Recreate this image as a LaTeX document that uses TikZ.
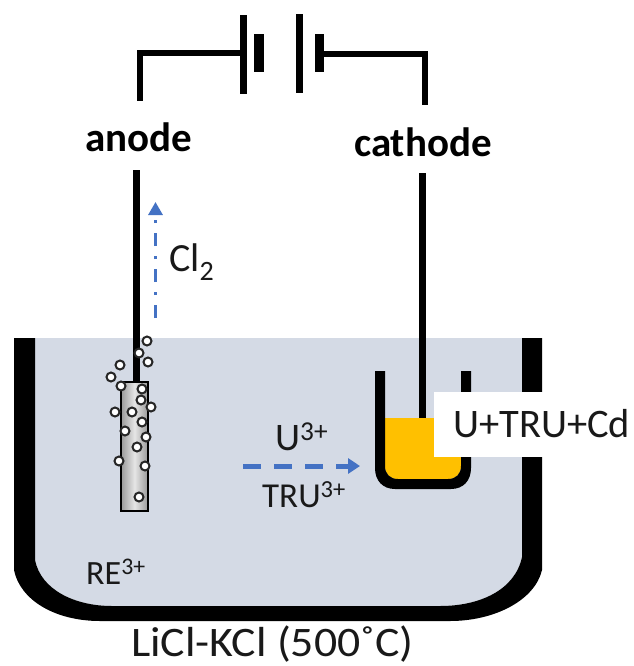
\documentclass[tikz,border=0pt]{standalone}
\usepackage{fontspec}
\usepackage{graphicx}
\setmainfont{Carlito}
\usetikzlibrary{arrows.meta,calc}
\definecolor{melt}{HTML}{D4DAE5}
\definecolor{cad}{HTML}{FFC000}
\definecolor{flow}{HTML}{4472C4}
\tikzset{
 lbl/.style={inner sep=0pt,font=\fontsize{#1}{#1}\selectfont,text=black!90},
 lbl/.default=30,
 boldlbl/.style={inner sep=0pt,font=\fontsize{41}{41}\selectfont\bfseries,text=black},
 bub/.style={circle,draw=black!85,fill=white,line width=2pt,minimum size=9pt,inner sep=0pt},
 wire/.style={line width=6pt,line cap=butt,line join=miter},
 blk/.style={fill=black,draw=none},
 flowline/.style={draw=flow,-{Triangle[length=13pt,width=14pt,sep=0pt]}}
}
\begin{document}
\begin{tikzpicture}[x=1pt,y=-1pt]
\useasboundingbox[fill=white] (0,0) rectangle (633,666);
% melt
\fill[melt] (35,338) -- (522,338) -- (522,557) .. controls (515,590) and (480,606) .. (440,606) -- (112,606) .. controls (75,606) and (41,590) .. (35,560) -- cycle;
% vessel
\path[blk] (14,338) -- (35,338) -- (35,560) .. controls (41,590) and (75,606) .. (112,606)
 -- (440,606) .. controls (480,606) and (515,590) .. (522,557) -- (522,338) -- (542,338) -- (542,570)
 .. controls (535,600) and (495,621) .. (450,621) -- (100,621) .. controls (55,621) and (20,600) .. (14,570) -- cycle;
% anode wire
\coordinate (anTop) at (136.5,170);
\coordinate (anBot) at (136.5,384);
\draw[line width=7pt] (anTop) -- (anBot);
% electrode
\shade[left color=black!40,right color=black!40,middle color=black!10] (121,382) rectangle (148,511);
\draw[line width=1.6pt] (121,382) rectangle (148,511);
% bubbles
\foreach \n/\x/\y in {a/147/341,b/139/353,c/148/362,d/120/365,e/111/377,f/121/386,g/142/389,h/141/400,i/151/407,j/115/412,k/132/412,l/142/422,m/125/431,n/146/437,o/137/447,p/119/461,q/145/466,r/139/497}
  \node[bub] (bub\n) at (\x,\y) {};
% crucible
\fill[cad] (385,418) -- (461,418) -- (461,466) .. controls (461,474) and (456,479) .. (448,479) -- (398,479) .. controls (390,479) and (385,474) .. (385,466) -- cycle;
\path[blk] (375,371) -- (385,371) -- (385,466) .. controls (385,474) and (390,479) .. (398,479) -- (448,479) .. controls (456,479) and (461,474) .. (461,466) -- (461,371) -- (471,371) -- (471,468) .. controls (471,481) and (463,489) .. (451,489) -- (395,489) .. controls (383,489) and (375,481) .. (375,468) -- cycle;
% cathode wire
\coordinate (caTop) at (422.5,173);
\coordinate (caBot) at (422.5,418);
\draw[line width=7pt] (caTop) -- (caBot);
% white label backing
\fill[white] (434,392) rectangle (633,457);
\node[lbl=40.5,anchor=base west] (alloy) at (453,437) {U+TRU+Cd};
% battery
\path[blk] (240,15) rectangle (247,94);
\path[blk] (254,34) rectangle (264,72);
\path[blk] (296,14) rectangle (303,93);
\path[blk] (315,34) rectangle (324,72);
\coordinate (bl) at (240,53);
\coordinate (br) at (324,54);
\coordinate (wl) at (140,101);
\coordinate (wr) at (425,105);
\draw[wire] (bl) -| (wl);
\draw[wire] (br) -| (wr);
% labels
\node[boldlbl] (anode) at (139,137) {anode};
\node[boldlbl] (cathode) at (423,142) {cathode};
\node[lbl=40,anchor=base west] (cl) at (169,271) {Cl\textsubscript{2}};
\node[lbl=39,anchor=base west] (u) at (275,450) {U\textsuperscript{3+}};
\node[lbl=35,anchor=base west] (tru) at (262,507) {TRU\textsuperscript{3+}};
\node[lbl=34,anchor=base west] (re) at (86,584) {RE\textsuperscript{3+}};
\node[lbl=42,anchor=base] (salt) at (272.5,656) {\scalebox{1.09}[1]{LiCl-KCl (500˚C)}};
% arrows
\coordinate (c1) at (155.5,318);
\coordinate (c2) at (155.5,202);
\coordinate (t1) at (243,466);
\coordinate (t2) at (360,466);
\draw[flowline,line width=3pt,dash pattern=on 13pt off 10pt on 3pt off 10pt] (c1) -- (c2);
\draw[flowline,line width=5pt,-{Triangle[length=12pt,width=15pt]},dash pattern=on 18pt off 13pt] (t1) -- (t2);
\end{tikzpicture}
\end{document}
